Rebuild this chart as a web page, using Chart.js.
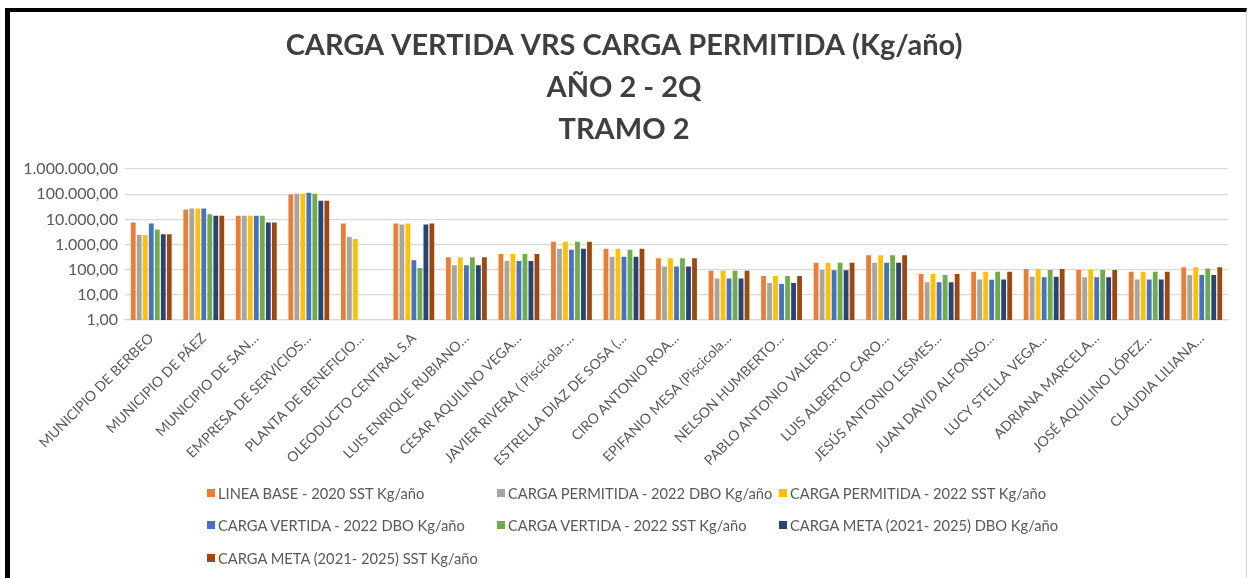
<!DOCTYPE html>
<html>
<head>
<meta charset="utf-8">
<script src="https://cdn.jsdelivr.net/npm/chart.js@4"></script>
<style>
  html, body { margin: 0; padding: 0; background: #fff; overflow: hidden; }
  body { width: 1248px; height: 578px; position: relative; font-family: Lato, "Open Sans", sans-serif; }
  #frame { position: absolute; left: 5px; top: 8px; width: 1236px; height: 600px;
           border-top: 4px solid #000; border-left: 5px solid #000; border-right: 1px solid #d0d0d0; }
  #wrap { position: absolute; left: 0; top: 0; width: 1248px; height: 480px; }
  #legend { position: absolute; left: 0; top: 0; width: 1248px; height: 578px; pointer-events: none; }
  .li { position: absolute; display: flex; align-items: center; font-size: 14.7px; color: #595959; white-space: nowrap; transform: translateY(-50%); }
  .li span.box { display: inline-block; width: 8px; height: 8px; margin-right: 3px; }
</style>
</head>
<body>
<div id="frame"></div>
<div id="wrap"><canvas id="c"></canvas></div>
<div id="legend"></div>
<script>
const categories = [
  "MUNICIPIO DE BERBEO", "MUNICIPIO DE PÁEZ", "MUNICIPIO DE SAN…", "EMPRESA DE SERVICIOS…",
  "PLANTA DE BENEFICIO…", "OLEODUCTO CENTRAL S.A", "LUIS ENRIQUE RUBIANO…", "CESAR AQUILINO VEGA…",
  "JAVIER RIVERA ( Piscicola-…", "ESTRELLA DIAZ DE SOSA (…", "CIRO ANTONIO ROA…", "EPIFANIO MESA (Piscicola…",
  "NELSON HUMBERTO…", "PABLO ANTONIO VALERO…", "LUIS ALBERTO CARO…", "JESÚS ANTONIO LESMES…",
  "JUAN DAVID ALFONSO…", "LUCY STELLA VEGA…", "ADRIANA MARCELA…", "JOSÉ AQUILINO LÓPEZ…", "CLAUDIA LILIANA…"
];

const seriesNames = [
  "LINEA BASE - 2020 SST Kg/año",
  "CARGA PERMITIDA - 2022 DBO Kg/año",
  "CARGA PERMITIDA - 2022 SST Kg/año",
  "CARGA VERTIDA - 2022 DBO Kg/año",
  "CARGA VERTIDA - 2022 SST Kg/año",
  "CARGA META (2021- 2025) DBO Kg/año",
  "CARGA META (2021- 2025) SST Kg/año"
];

const lineaBase2020SST   = [7600, 25000, 14000, 98000, 6900, 6900, 310, 420, 1290, 680, 283, 91, 56, 190, 380, 67, 83, 106, 97, 83, 124];
const permitida2022DBO   = [2400, 27000, 14000, 104000, 2000, 6300, 149, 220, 680, 330, 135, 45, 29.5, 97, 190, 32, 41, 53, 50, 41, 61];
const permitida2022SST   = [2400, 27000, 14000, 104000, 1650, 6900, 310, 420, 1290, 680, 283, 91, 56, 190, 380, 67, 83, 106, 97, 83, 124];
const vertida2022DBO     = [6900, 27000, 14000, 114000, null, 240, 149, 220, 620, 330, 135, 45, 27, 95, 190, 32, 40, 50, 50, 41, 61];
const vertida2022SST     = [4000, 16000, 14000, 104000, null, 117, 310, 420, 1290, 620, 283, 91, 56, 190, 380, 61, 83, 97, 97, 83, 113];
const meta2021_2025DBO   = [2600, 14000, 7600, 55000, null, 6300, 149, 220, 680, 330, 135, 45, 29.5, 95, 190, 32, 41, 53, 50, 41, 61];
const meta2021_2025SST   = [2600, 14000, 7600, 55000, null, 6900, 310, 420, 1290, 680, 283, 91, 56, 190, 380, 67, 83, 106, 97, 83, 124];

const yTickValues = [1, 10, 100, 1000, 10000, 100000, 1000000];
const titleLines = ["CARGA VERTIDA VRS CARGA PERMITIDA (Kg/año)", "AÑO 2 - 2Q", "TRAMO 2"];

const colors = ["#ED7D31", "#A5A5A5", "#FFC000", "#4472C4", "#70AD47", "#264478", "#9E480E"];
const seriesData = [lineaBase2020SST, permitida2022DBO, permitida2022SST, vertida2022DBO, vertida2022SST, meta2021_2025DBO, meta2021_2025SST];

function fmt(v) {
  const s = Math.round(v).toString().replace(/\B(?=(\d{3})+(?!\d))/g, ".");
  return s + ",00";
}

const FONT = "Lato, 'Open Sans', sans-serif";

const chart = new Chart(document.getElementById('c'), {
  type: 'bar',
  data: {
    labels: categories,
    datasets: seriesData.map((d, i) => ({
      label: seriesNames[i],
      data: d,
      backgroundColor: colors[i],
      borderWidth: 0,
      categoryPercentage: 0.8,
      barPercentage: 0.8
    }))
  },
  options: {
    responsive: true,
    maintainAspectRatio: false,
    animation: false,
    layout: { padding: { left: 20, right: 20, top: 0, bottom: 0 } },
    plugins: {
      legend: { display: false },
      tooltip: { enabled: false },
      title: {
        display: true,
        text: titleLines,
        color: '#3F3F3F',
        font: { family: FONT, size: 29, weight: 'bold', lineHeight: 1.45 },
        padding: { top: 25, bottom: 18 }
      }
    },
    scales: {
      y: {
        type: 'logarithmic',
        min: 1,
        max: 1000000,
        afterBuildTicks: s => { s.ticks = yTickValues.map(v => ({ value: v })); },
        afterFit: s => { s.width = 105; },
        ticks: {
          callback: v => fmt(v),
          color: '#595959',
          font: { family: FONT, size: 16 },
          padding: 7
        },
        grid: { color: '#D9D9D9', lineWidth: 1.3, drawTicks: false },
        border: { display: false }
      },
      x: {
        afterFit: s => { s.height = 160; },
        ticks: {
          autoSkip: false,
          minRotation: 45,
          maxRotation: 45,
          color: '#595959',
          font: { family: FONT, size: 14 },
          padding: 2
        },
        grid: { display: false },
        border: { color: '#D9D9D9', width: 1.3 }
      }
    }
  }
});

// HTML legend built from the chart's datasets, laid out in Excel-like columns
const legendCols = [207, 497, 779];
const legendRows = [493, 525, 558];
const legendEl = document.getElementById('legend');
chart.data.datasets.forEach((ds, i) => {
  const item = document.createElement('div');
  item.className = 'li';
  item.style.left = legendCols[i % 3] + 'px';
  item.style.top = legendRows[Math.floor(i / 3)] + 'px';
  const box = document.createElement('span');
  box.className = 'box';
  box.style.background = ds.backgroundColor;
  item.appendChild(box);
  item.appendChild(document.createTextNode(ds.label));
  legendEl.appendChild(item);
});
</script>
</body>
</html>
